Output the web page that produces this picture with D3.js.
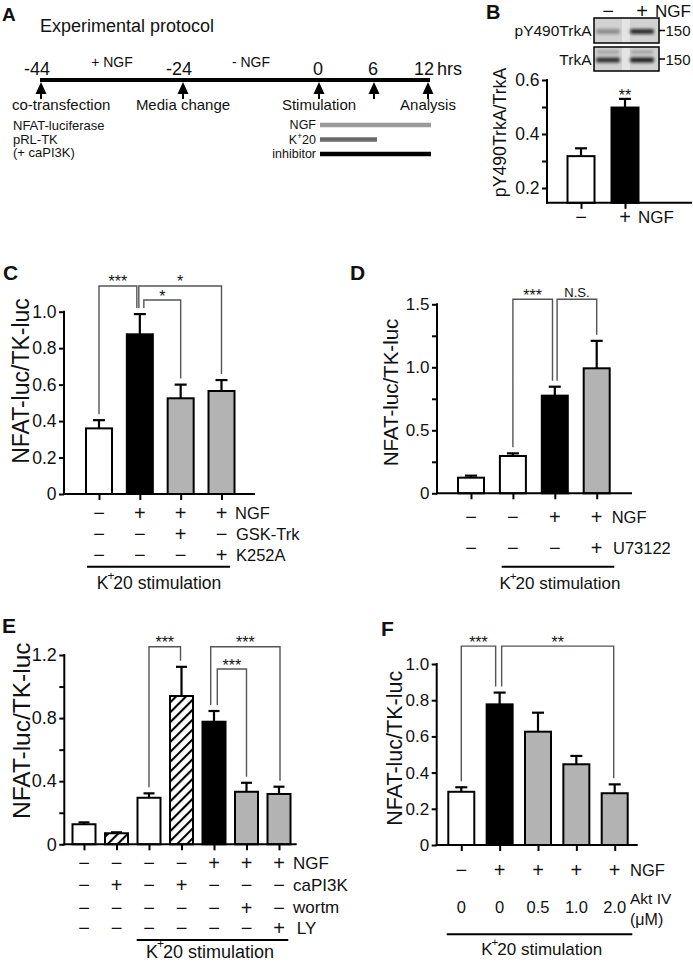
<!DOCTYPE html>
<html><head><meta charset="utf-8">
<script src="https://cdn.jsdelivr.net/npm/d3@7"></script>
<style>
body{margin:0;background:#fff;}
svg{display:block;font-family:"Liberation Sans",Arial,Helvetica,sans-serif;}
</style></head><body>
<svg id="fig" width="693" height="964"></svg>
<script>
// ================= DATA =================
// Panel A: experimental protocol
const timeValues = [-44, -24, 0, 6, 12];
const timeLabels = ["-44", "-24", "0", "6", "12"];
const timeUnit = "hrs";
const eventLabels = ["co-transfection", "Media change", "Stimulation", "", "Analysis"];
const periodLabels = ["+ NGF", "- NGF"];
const transfectionLines = ["NFAT-luciferase", "pRL-TK", "(+ caPI3K)"];
const treatmentNames = ["NGF", "K+20", "inhibitor"];
const treatmentStart = [0, 0, 0];
const treatmentEnd = [12, 6, 12];

// Panel B
const bValues = [0.318, 0.498];
const bErrors = [0.029, 0.032];
const bGroups = ["ctrl", "ngf"];
const bRowNames = ["NGF"];
const bRowSigns = [["−", "+"]];
const bSigLabel = "**";
const blotRows = ["pY490TrkA", "TrkA"];
const blotLanes = ["−", "+"];
const blotIntensity = [[0.35, 0.85], [0.85, 0.92]];
const blotMarker = "150";

// Panel C
const cValues = [0.36, 0.876, 0.525, 0.565];
const cErrors = [0.045, 0.111, 0.075, 0.06];
const cGroups = ["ctrl", "ngf", "inh", "inh"];
const cRowNames = ["NGF", "GSK-Trk", "K252A"];
const cRowSigns = [["−", "+", "+", "+"], ["−", "−", "+", "−"], ["−", "−", "−", "+"]];
const cSig = [{a: 0, b: 1, label: "***", level: 1.141}, {a: 1, b: 3, label: "*", level: 1.141}, {a: 1, b: 2, label: "*", level: 1.064}];

// Panel D
const dValues = [0.124, 0.296, 0.775, 0.992];
const dErrors = [0.016, 0.021, 0.071, 0.218];
const dGroups = ["ctrl", "ctrl", "ngf", "inh"];
const dRowNames = ["NGF", "U73122"];
const dRowSigns = [["−", "−", "+", "+"], ["−", "−", "−", "+"]];
const dSig = [{a: 1, b: 2, label: "***", level: 1.54}, {a: 2, b: 3, label: "N.S.", level: 1.54}];

// Panel E
const eValues = [0.127, 0.07, 0.295, 0.94, 0.777, 0.333, 0.319];
const eErrors = [0.012, 0.006, 0.028, 0.185, 0.068, 0.057, 0.046];
const eGroups = ["ctrl", "hatch", "ctrl", "hatch", "ngf", "inh", "inh"];
const eRowNames = ["NGF", "caPI3K", "wortm", "LY"];
const eRowSigns = [
  ["−", "−", "−", "−", "+", "+", "+"],
  ["−", "+", "−", "+", "−", "−", "−"],
  ["−", "−", "−", "−", "−", "+", "−"],
  ["−", "−", "−", "−", "−", "−", "+"]];
const eSig = [{a: 2, b: 3, label: "***", level: 1.252}, {a: 4, b: 6, label: "***", level: 1.252}, {a: 4, b: 5, label: "***", level: 1.111}];

// Panel F
const fValues = [0.294, 0.777, 0.626, 0.446, 0.286];
const fErrors = [0.025, 0.065, 0.105, 0.046, 0.049];
const fGroups = ["ctrl", "ngf", "inh", "inh", "inh"];
const fRowNames = ["NGF"];
const fRowSigns = [["−", "+", "+", "+", "+"]];
const fDoses = ["0", "0", "0.5", "1.0", "2.0"];
const fDoseLabel = ["Akt IV", "(μM)"];
const fSig = [{a: 0, b: 1, label: "***", level: 1.099}, {a: 1, b: 4, label: "**", level: 1.099}];

const yLabelMain = "NFAT-luc/TK-luc";
const stimLabel = ["K", "+", "20 stimulation"];

// ================= STYLE / LAYOUT =================
const fills = {ctrl: "#ffffff", ngf: "#000000", inh: "#b3b3b3", hatch: "url(#hatch)"};
const INK = "#111";
const svg = d3.select("#fig");

const defs = svg.append("defs");
const pat = defs.append("pattern").attr("id", "hatch").attr("patternUnits", "userSpaceOnUse")
  .attr("width", 7).attr("height", 7).attr("patternTransform", "rotate(45)");
pat.append("rect").attr("width", 7).attr("height", 7).attr("fill", "#fff");
pat.append("line").attr("x1", 1).attr("x2", 1).attr("y1", -1).attr("y2", 8).attr("stroke", "#000").attr("stroke-width", 2.2);
const blur = defs.append("filter").attr("id", "blur").attr("x", "-50%").attr("y", "-100%").attr("width", "200%").attr("height", "300%");
blur.append("feGaussianBlur").attr("stdDeviation", 1.4);

function T(g, x, y, s, size, o = {}) {
  return g.append("text").attr("x", x).attr("y", y).text(s)
    .attr("font-size", size).attr("text-anchor", o.anchor || "start")
    .attr("dominant-baseline", o.base || "auto")
    .attr("font-weight", o.weight || "normal").attr("fill", o.fill || INK);
}
function stimText(g, x, y, size) {
  const t = g.append("text").attr("x", x).attr("y", y).attr("font-size", size)
    .attr("text-anchor", "middle").attr("dominant-baseline", "central").attr("fill", INK);
  t.append("tspan").text(stimLabel[0]);
  t.append("tspan").attr("dy", -size * 0.42).attr("dx", -1).attr("font-size", size * 0.68).text(stimLabel[1]);
  t.append("tspan").attr("dy", size * 0.42).attr("dx", -1).text(stimLabel[2]);
  return t;
}

// ================= PANEL A =================
(function () {
  const g = svg.append("g");
  T(g, 2, 21, "A", 19, {weight: "bold"});
  T(g, 40, 32, "Experimental protocol", 18);
  const xT = d3.scaleLinear().domain(timeValues).range([41, 183, 319, 374, 428]);
  const lineY = 80;
  g.append("line").attr("x1", xT(timeValues[0]) - 1).attr("x2", xT(timeValues[timeValues.length - 1]) + 2)
    .attr("y1", lineY).attr("y2", lineY).attr("stroke", "#000").attr("stroke-width", 4);
  timeValues.forEach((v, i) => {
    const x = xT(v);
    T(g, x + (timeLabels[i].length > 1 ? -4 : -1), 75, timeLabels[i], 18, {anchor: "middle"});
    g.append("path").attr("d", `M${x},${lineY + 2} L${x + 5.5},${lineY + 14} L${x - 5.5},${lineY + 14} Z`).attr("fill", "#000");
    g.append("line").attr("x1", x).attr("x2", x).attr("y1", lineY + 12).attr("y2", lineY + 19).attr("stroke", "#000").attr("stroke-width", 2);
    if (eventLabels[i]) {
      const t = T(g, x, 110, eventLabels[i], 15, {anchor: "middle"});
      const w = t.node().getComputedTextLength();
      if (x - w / 2 < 12) t.attr("x", 12 + w / 2);
    }
  });
  T(g, xT(timeValues[timeValues.length - 1]) + 9, 75, timeUnit, 18);
  periodLabels.forEach((s, i) => {
    T(g, (xT(timeValues[i]) + xT(timeValues[i + 1])) / 2, 67, s, 14, {anchor: "middle"});
  });
  transfectionLines.forEach((s, i) => T(g, 13, 130 + i * 13.5, s, 13));
  const tColors = ["#9a9a9a", "#6a6a6a", "#000"];
  treatmentNames.forEach((nm, i) => {
    const y = 125 + i * 14.5;
    g.append("line").attr("x1", xT(treatmentStart[i]) + 1).attr("x2", xT(treatmentEnd[i]) + 3)
      .attr("y1", y).attr("y2", y).attr("stroke", tColors[i]).attr("stroke-width", 4.5);
    if (nm === "K+20") {
      const t = g.append("text").attr("x", 316).attr("y", y).attr("font-size", 12.5).attr("text-anchor", "end")
        .attr("dominant-baseline", "central").attr("fill", INK);
      t.append("tspan").text("K");
      t.append("tspan").attr("dy", -4).attr("font-size", 8.5).text("+");
      t.append("tspan").attr("dy", 4).text("20");
    } else {
      T(g, 316, y, nm, 12.5, {anchor: "end", base: "central"});
    }
  });
})();

// ================= GENERIC BAR PANEL =================
function barPanel(P) {
  const g = svg.append("g");
  const n = P.values.length;
  const x = d3.scalePoint().domain(d3.range(n)).range(P.xRange);
  const y = d3.scaleLinear().domain(P.yDomain).range(P.yRange);
  const base = y(P.base);

  g.selectAll("rect.bar").data(P.values).join("rect").attr("class", "bar")
    .attr("x", (d, i) => x(i) - P.bw / 2).attr("width", P.bw)
    .attr("y", d => y(d)).attr("height", d => base - y(d))
    .attr("fill", (d, i) => fills[P.groups[i]]).attr("stroke", "#000").attr("stroke-width", 2);
  P.values.forEach((v, i) => {
    const yt = y(v + P.errors[i]);
    g.append("line").attr("x1", x(i)).attr("x2", x(i)).attr("y1", y(v)).attr("y2", yt)
      .attr("stroke", "#000").attr("stroke-width", 2.2);
    g.append("line").attr("x1", x(i) - P.cap / 2).attr("x2", x(i) + P.cap / 2).attr("y1", yt).attr("y2", yt)
      .attr("stroke", "#000").attr("stroke-width", 2.2);
  });

  g.append("line").attr("x1", P.axisX).attr("x2", P.axisX).attr("y1", base + 1).attr("y2", y(P.yDomain[1]) - 1)
    .attr("stroke", "#000").attr("stroke-width", 2);
  const ya = g.append("g").attr("transform", `translate(${P.axisX},0)`)
    .call(d3.axisLeft(y).tickValues(P.ticks).tickFormat(P.fmt).tickSize(5).tickSizeOuter(0).tickPadding(2.5));
  ya.select(".domain").remove();
  ya.attr("font-family", null).attr("font-size", null);
  ya.selectAll("line").attr("stroke", "#000").attr("stroke-width", 2);
  ya.selectAll("text").attr("font-size", P.tickFont).attr("fill", INK);
  if (P.minor) {
    const ym = g.append("g").attr("transform", `translate(${P.axisX},0)`)
      .call(d3.axisLeft(y).tickValues(P.minor).tickFormat("").tickSize(5).tickSizeOuter(0));
    ym.select(".domain").remove();
    ym.selectAll("line").attr("stroke", "#000").attr("stroke-width", 2);
  }
  g.append("line").attr("x1", P.axisX - 1).attr("x2", P.xEnd).attr("y1", base).attr("y2", base)
    .attr("stroke", "#000").attr("stroke-width", 2);
  const xa = g.append("g").attr("transform", `translate(0,${base})`)
    .call(d3.axisBottom(x).tickFormat("").tickSize(6).tickSizeOuter(0));
  xa.select(".domain").remove();
  xa.selectAll("line").attr("stroke", "#000").attr("stroke-width", 2);

  g.append("text").attr("transform", `translate(${P.yLabel[0]},${P.yLabel[1]}) rotate(-90)`)
    .attr("text-anchor", "middle").attr("dominant-baseline", "central")
    .attr("font-size", P.yLabelFont).attr("fill", INK).text(P.yLabelText);

  P.rowSigns.forEach((row, r) => {
    const ry = P.rowY[r];
    row.forEach((s, i) => T(g, x(i), ry, s, P.signFont, {anchor: "middle", base: "central"}));
    T(g, P.rowLabelX[r], ry, P.rowNames[r], P.rowFont, {base: "central"});
  });

  if (P.stim) {
    g.append("line").attr("x1", P.stim.x1).attr("x2", P.stim.x2).attr("y1", P.stim.y).attr("y2", P.stim.y)
      .attr("stroke", "#000").attr("stroke-width", 2);
    stimText(g, P.stim.tx, P.stim.ty, P.stim.font);
  }

  if (P.sig) {
    P.sig.forEach((s, k) => {
      const off = P.sigOff[k];
      const xa_ = x(s.a) + off[0], xb_ = x(s.b) + off[1];
      const yt = y(s.level);
      const y1 = y(P.values[s.a] + P.errors[s.a]) - 6;
      const y2 = y(P.values[s.b] + P.errors[s.b]) - 6;
      g.append("path").attr("d", `M${xa_},${y1} V${yt} H${xb_} V${y2}`)
        .attr("fill", "none").attr("stroke", "#555").attr("stroke-width", 1.4);
      if (s.label.startsWith("*")) {
        T(g, (xa_ + xb_) / 2, yt + 1.5, s.label, 16, {anchor: "middle"});
      } else {
        T(g, (xa_ + xb_) / 2, yt - 2.5, s.label, 13, {anchor: "middle"});
      }
    });
  }
  if (P.letter) T(g, P.letter[0], P.letter[1], P.letter[2], 21, {weight: "bold", base: "central"});
  return {g, x, y};
}

const fmt1 = d => d === 0 ? "0" : d3.format(".1f")(d);

// ================= PANEL B =================
(function () {
  const P = barPanel({
    values: bValues, errors: bErrors, groups: bGroups,
    xRange: [581, 625], yDomain: [0.2, 0.6], yRange: [188, 80], base: 0.145,
    axisX: 547, xEnd: 692, bw: 27, cap: 12,
    ticks: [0.2, 0.4, 0.6], minor: [0.3, 0.5], fmt: d3.format(".1f"), tickFont: 17.5,
    yLabel: [500, 132.5], yLabelFont: 17.7, yLabelText: "pY490TrkA/TrkA",
    rowSigns: bRowSigns, rowNames: bRowNames, rowY: [217], rowLabelX: [638], signFont: 20, rowFont: 17
  });
  const g = P.g;
  T(g, 486, 12, "B", 20, {weight: "bold", base: "central"});
  T(g, P.x(1), P.y(bValues[1] + bErrors[1]) + 2, bSigLabel, 16, {anchor: "middle"});
  const laneX = [608, 642];
  blotLanes.forEach((s, i) => T(g, laneX[i], 11, s, 20, {anchor: "middle", base: "central"}));
  T(g, 655, 11, "NGF", 17, {base: "central"});
  const boxes = [[18, 43], [47, 71]];
  blotRows.forEach((nm, r) => {
    const [y0, y1] = boxes[r];
    g.append("rect").attr("x", 594).attr("y", y0).attr("width", 65).attr("height", y1 - y0).attr("fill", "#d2d2d2");
    g.append("rect").attr("x", 622).attr("y", y0).attr("width", 8).attr("height", y1 - y0).attr("fill", "#e4e4e4");
    const by = (y0 + y1) / 2 + 1;
    blotIntensity[r].forEach((a, i) => {
      g.append("rect").attr("x", laneX[i] - 12).attr("y", by - 2.5).attr("width", 24).attr("height", 5)
        .attr("rx", 2).attr("fill", "#111").attr("opacity", a).attr("filter", "url(#blur)");
      if (r === 1) g.append("rect").attr("x", laneX[i] - 11).attr("y", y0 + 3).attr("width", 22).attr("height", 4)
        .attr("fill", "#555").attr("opacity", 0.35).attr("filter", "url(#blur)");
    });
    g.append("rect").attr("x", 594).attr("y", y0).attr("width", 65).attr("height", y1 - y0)
      .attr("fill", "none").attr("stroke", "#000").attr("stroke-width", 1.5);
    T(g, 591.5, (y0 + y1) / 2, nm, 15.5, {anchor: "end", base: "central"});
    g.append("line").attr("x1", 659).attr("x2", 665).attr("y1", (y0 + y1) / 2).attr("y2", (y0 + y1) / 2)
      .attr("stroke", "#000").attr("stroke-width", 1.5);
    T(g, 665.5, (y0 + y1) / 2, blotMarker, 15, {base: "central"});
  });
})();

// ================= PANEL C =================
barPanel({
  values: cValues, errors: cErrors, groups: cGroups,
  xRange: [99, 221.5], yDomain: [0, 1.0], yRange: [494, 311.7], base: 0,
  axisX: 64, xEnd: 255, bw: 26, cap: 12,
  ticks: [0, 0.2, 0.4, 0.6, 0.8, 1.0], fmt: fmt1, tickFont: 17.5,
  yLabel: [21, 381], yLabelFont: 23, yLabelText: yLabelMain,
  rowSigns: cRowSigns, rowNames: cRowNames, rowY: [513, 534.3, 555], rowLabelX: [235, 236, 236], signFont: 20, rowFont: 16.5,
  stim: {x1: 87, x2: 230, y: 566.7, tx: 159, ty: 583, font: 17.5},
  sig: cSig, sigOff: [[0, -3], [-1, 0], [4, 0]],
  letter: [3, 272, "C"]
});

// ================= PANEL D =================
barPanel({
  values: dValues, errors: dErrors, groups: dGroups,
  xRange: [471, 596.7], yDomain: [0, 1.5], yRange: [493.3, 304.3], base: 0,
  axisX: 437, xEnd: 632, bw: 26, cap: 12,
  ticks: [0, 0.5, 1.0, 1.5], minor: [0.25, 0.75, 1.25], fmt: fmt1, tickFont: 17,
  yLabel: [390.7, 392.5], yLabelFont: 20.5, yLabelText: yLabelMain,
  rowSigns: dRowSigns, rowNames: dRowNames, rowY: [516.7, 548.3], rowLabelX: [611.7, 613], signFont: 20, rowFont: 16.5,
  stim: {x1: 501.7, x2: 614.3, y: 566.7, tx: 560, ty: 582.7, font: 17},
  sig: dSig, sigOff: [[0, -2.3], [2.3, 0]],
  letter: [350, 272, "D"]
});

// ================= PANEL E =================
barPanel({
  values: eValues, errors: eErrors, groups: eGroups,
  xRange: [84, 279], yDomain: [0, 1.2], yRange: [844.3, 655], base: 0,
  axisX: 64.3, xEnd: 296.7, bw: 23, cap: 11,
  ticks: [0, 0.4, 0.8, 1.2], minor: [0.2, 0.6, 1.0], fmt: fmt1, tickFont: 18,
  yLabel: [21.7, 730.7], yLabelFont: 24.5, yLabelText: yLabelMain,
  rowSigns: eRowSigns, rowNames: eRowNames, rowY: [863.3, 885, 907.7, 928.3], rowLabelX: [293, 293, 293, 296.7], signFont: 20, rowFont: 17,
  stim: {x1: 136.7, x2: 288.3, y: 940, tx: 210, ty: 951.7, font: 18},
  sig: eSig, sigOff: [[0, -1], [-3.3, 1], [3.3, 0]],
  letter: [2, 625, "E"]
});

// ================= PANEL F =================
(function () {
  const P = barPanel({
    values: fValues, errors: fErrors, groups: fGroups,
    xRange: [461.3, 614.7], yDomain: [0, 1.0], yRange: [845, 664], base: 0,
    axisX: 436.7, xEnd: 637.7, bw: 26, cap: 12,
    ticks: [0, 0.2, 0.4, 0.6, 0.8, 1.0], fmt: fmt1, tickFont: 17,
    yLabel: [394.7, 748.3], yLabelFont: 21.5, yLabelText: yLabelMain,
    rowSigns: fRowSigns, rowNames: fRowNames, rowY: [870], rowLabelX: [630], signFont: 20, rowFont: 16.5,
    stim: {x1: 446.7, x2: 632.3, y: 934.3, tx: 541.7, ty: 949.3, font: 17},
    sig: fSig, sigOff: [[0, -4], [2, -1]],
    letter: [381, 628.3, "F"]
  });
  fDoses.forEach((s, i) => T(P.g, P.x(i), 906.7, s, 16.5, {anchor: "middle", base: "central"}));
  T(P.g, 630, 898.3, fDoseLabel[0], 15.5, {base: "central"});
  T(P.g, 630, 919.5, fDoseLabel[1], 16, {base: "central"});
})();
</script>
</body></html>
